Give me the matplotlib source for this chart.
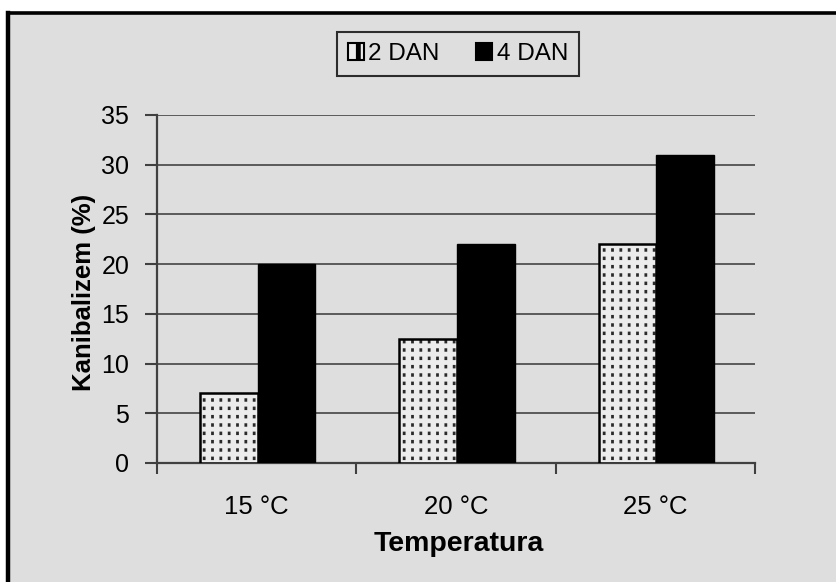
import matplotlib
matplotlib.use("Agg")
import matplotlib.pyplot as plt
from matplotlib.patches import Rectangle
from matplotlib.lines import Line2D
import numpy as np

categories = ["15 °C", "20 °C", "25 °C"]
series_names = ["2 DAN", "4 DAN"]
dan2 = [7, 12.5, 22]
dan4 = [20, 22, 31]
yticks = [0, 5, 10, 15, 20, 25, 30, 35]

plt.rcParams["font.family"] = ["Liberation Sans", "DejaVu Sans"]

W, H = 836, 582
bg = "#dedede"
light = "#ececec"
fig = plt.figure(figsize=(W / 100, H / 100), dpi=100, facecolor=bg)

# white margin above and left of the framed panel, with the frame's dark edges
top_y = 1 - 12.5 / H
left_x = 8 / W
fig.patches.append(Rectangle((0, top_y), 1, 1 - top_y, transform=fig.transFigure,
                             facecolor="white", edgecolor="none", zorder=-10))
fig.patches.append(Rectangle((0, 0), left_x, 1, transform=fig.transFigure,
                             facecolor="white", edgecolor="none", zorder=-10))
fig.lines.append(Line2D([left_x, 1], [top_y, top_y], transform=fig.transFigure,
                        color="black", linewidth=2.6, zorder=-9))
fig.lines.append(Line2D([left_x, left_x], [0, top_y], transform=fig.transFigure,
                        color="black", linewidth=3.2, zorder=-9))

ax = fig.add_axes([157 / W, 1 - 463 / H, (755 - 157) / W, (463 - 115) / H])
ax.set_facecolor(bg)

x = np.arange(len(categories))
bw = 0.29
x2 = x - bw / 2 + 0.005
x4 = x + bw / 2 + 0.005

# dotted texture: vertical hatch lines broken up by light horizontal bands
plt.rcParams["hatch.linewidth"] = 2.0
ax.bar(x2, dan2, width=bw, facecolor=light, edgecolor="#2a2a2a",
       linewidth=0, hatch="||", zorder=3, label=series_names[0])
plt.rcParams["hatch.linewidth"] = 3.5
ax.bar(x2, dan2, width=bw, facecolor="none", edgecolor=light,
       linewidth=0, hatch="--", zorder=3.1)
ax.bar(x2, dan2, width=bw, facecolor="none", edgecolor="black",
       linewidth=1.8, zorder=3.2)
ax.bar(x4, dan4, width=bw, facecolor="black", edgecolor="black",
       linewidth=1.0, zorder=3, label=series_names[1])

ax.set_xlim(-0.5, 2.5)
ax.set_ylim(0, 35)
ax.set_yticks(yticks)
ax.yaxis.grid(True, color="#505050", linewidth=1.3, zorder=0)
ax.set_axisbelow(True)

ax.set_xticks(np.arange(-0.5, 3.0, 1.0))
ax.set_xticklabels([])
ax.set_xticks(x, minor=True)
ax.set_xticklabels(categories, minor=True, fontsize=18.5)
ax.tick_params(axis="x", which="minor", length=0, pad=23)
ax.tick_params(axis="x", which="major", length=8, width=1.5, color="#404040",
               direction="out")
ax.tick_params(axis="y", length=9, width=1.5, color="#404040",
               direction="out", labelsize=18, pad=11)

for side in ["top", "right"]:
    ax.spines[side].set_visible(False)
for side in ["left", "bottom"]:
    ax.spines[side].set_color("#404040")
    ax.spines[side].set_linewidth(1.6)

ax.set_ylabel("Kanibalizem (%)", fontsize=18.5, fontweight="bold")
ax.yaxis.set_label_coords(-0.102, 0.49)
ax.set_xlabel("Temperatura", fontsize=20.5, fontweight="bold")
ax.xaxis.set_label_coords(0.504, -0.195)

handles, labels = ax.get_legend_handles_labels()
leg = ax.legend(handles, labels, loc="center",
                bbox_to_anchor=(458 / W, 1 - 54 / H),
                bbox_transform=fig.transFigure, ncol=2, fontsize=17.5,
                frameon=True, fancybox=False, handlelength=0.65,
                handleheight=0.65, handletextpad=0.2, columnspacing=1.5,
                borderpad=0.45, borderaxespad=0)
leg.get_frame().set_edgecolor("black")
leg.get_frame().set_linewidth(1.5)
leg.get_frame().set_facecolor(bg)
for h in leg.legend_handles:
    h.set_edgecolor("black")
    h.set_linewidth(1.5)
leg.legend_handles[0].set_hatch("|")

fig.savefig("out.png", dpi=100, facecolor=bg)
